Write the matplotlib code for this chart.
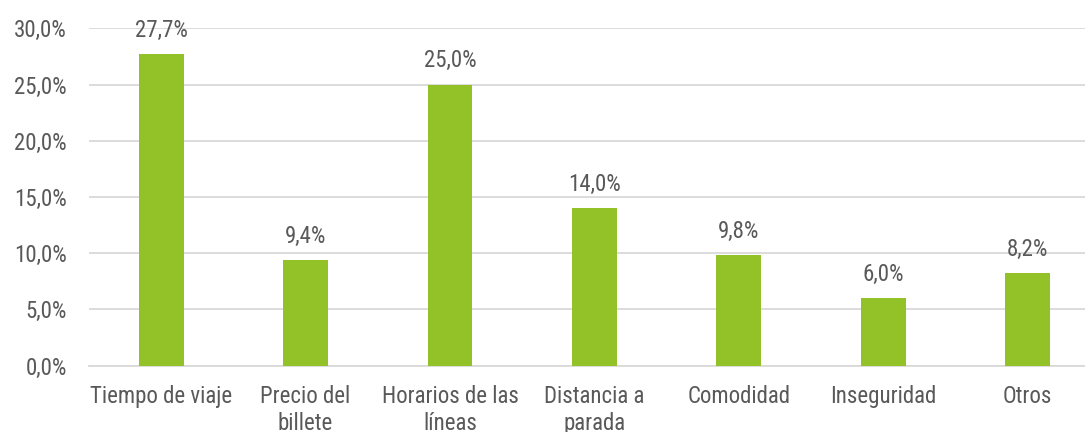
import numpy as np
import matplotlib
matplotlib.use("Agg")
import matplotlib.pyplot as plt
from matplotlib.ticker import FuncFormatter

categories = ["Tiempo de viaje", "Precio del\nbillete", "Horarios de las\nlíneas",
              "Distancia a\nparada", "Comodidad", "Inseguridad", "Otros"]
values = [27.7, 9.4, 25.0, 14.0, 9.8, 6.0, 8.2]
yticks = [0, 5, 10, 15, 20, 25, 30]

bar_color = "#93C128"
text_color = "#595959"
grid_color = "#D9D9D9"

plt.rcParams['font.family'] = ['Roboto Condensed', 'DejaVu Sans']

fig = plt.figure(figsize=(10.85, 4.32), dpi=100)
# plot area runs past the right edge, as in the original crop
ax = fig.add_axes([0.082, 0.1535, 0.9316, 0.781])

x = np.arange(len(categories))
ax.bar(x, values, width=0.31, color=bar_color, zorder=3)

for xi, v in zip(x, values):
    ax.annotate(f"{v:.1f}%".replace(".", ","), (xi, v), xytext=(0, 9),
                textcoords="offset points", ha="center", va="bottom",
                fontsize=16.5, color=text_color)

ax.set_xlim(-0.5, len(categories) - 0.5)
ax.set_ylim(0, 30)
ax.set_yticks(yticks)
ax.yaxis.set_major_formatter(FuncFormatter(lambda v, p: f"{v:.1f}%".replace(".", ",")))
ax.set_xticks(x)
ax.set_xticklabels(categories, fontsize=16.5, color=text_color, linespacing=1.22)
ax.tick_params(axis="y", length=0, pad=16, labelsize=16.5, labelcolor=text_color)
ax.tick_params(axis="x", length=0, pad=14)

ax.grid(axis="y", color=grid_color, linewidth=1.3, zorder=0)
for side in ["top", "right", "left"]:
    ax.spines[side].set_visible(False)
ax.spines["bottom"].set_color(grid_color)
ax.spines["bottom"].set_linewidth(1.3)

fig.savefig("out.png", dpi=100)
